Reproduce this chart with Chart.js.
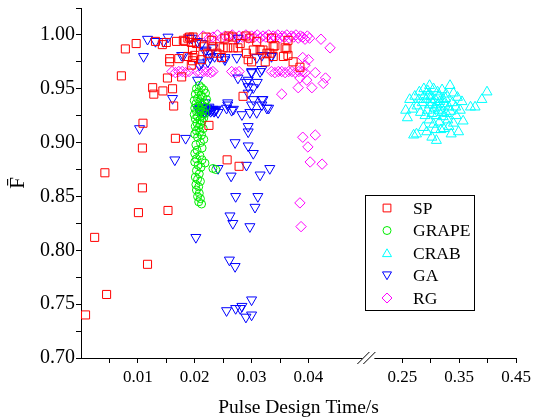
<!DOCTYPE html>
<html><head><meta charset="utf-8">
<script src="https://cdn.jsdelivr.net/npm/chart.js@4/dist/chart.umd.min.js"></script>
<style>html,body{margin:0;padding:0;background:#fff;}canvas{display:block;}</style>
</head><body>
<canvas id="c" width="538" height="420"></canvas>
<script>
// ---------------- DATA ----------------
const seriesNames = ['SP', 'GRAPE', 'CRAB', 'GA', 'RG'];

const spX = [0.0008,0.0024,0.0042,0.0045,0.0071,0.0078,0.0097,0.0101,0.0108,0.0108,0.0109,0.0117,0.0126,0.0128,0.0131,0.0143,0.0144,0.0150,0.0152,0.0153,0.0156,0.0156,0.0161,0.0163,0.0166,0.0168,0.0172,0.0177,0.0183,0.0188,0.0188,0.0194,0.0194,0.0197,0.0203,0.0212,0.0215,0.0223,0.0225,0.0230,0.0232,0.0239,0.0244,0.0247,0.0250,0.0253,0.0257,0.0258,0.0267,0.0268,0.0276,0.0278,0.0280,0.0285,0.0291,0.0294,0.0297,0.0300,0.0303,0.0309,0.0315,0.0320,0.0324,0.0327,0.0332,0.0338,0.0338,0.0341,0.0356,0.0359,0.0362,0.0364,0.0364,0.0373,0.0385,0.0196,0.0200,0.0196,0.0180,0.0191,0.0197,0.0220,0.0260,0.0335,0.0290];
const spY = [0.740,0.812,0.872,0.759,0.962,0.987,0.992,0.835,0.858,0.895,0.918,0.787,0.951,0.945,0.994,0.991,0.948,0.993,0.960,0.837,0.978,0.975,0.950,0.934,0.904,0.994,0.978,0.961,0.994,0.980,0.997,0.993,0.972,0.979,0.992,0.977,0.989,0.983,0.916,0.995,0.989,0.983,0.989,0.979,0.988,0.997,0.884,0.988,0.998,0.988,0.988,0.878,0.992,0.943,0.983,0.977,0.997,0.975,0.986,0.994,0.986,0.986,0.975,0.983,0.983,0.980,0.989,0.990,0.980,0.988,0.987,0.995,0.981,0.975,0.970,0.986,0.981,0.976,0.995,0.998,0.998,0.998,0.999,0.997,0.999];

const grapeX = [0.0208,0.0212,0.0203,0.0216,0.0207,0.0219,0.0201,0.0211,0.0214,0.0205,0.0221,0.0199,0.0209,0.0217,0.0202,0.0213,0.0206,0.0220,0.0200,0.0210,0.0215,0.0203,0.0208,0.0218,0.0199,0.0212,0.0205,0.0216,0.0201,0.0209,0.0213,0.0204,0.0210,0.0201,0.0207,0.0215,0.0203,0.0209,0.0200,0.0212,0.0205,0.0216,0.0210,0.0202,0.0213,0.0204,0.0200,0.0209,0.0203,0.0213,0.0218,0.0232,0.0237,0.0200,0.0206,0.0211,0.0203,0.0208,0.0201,0.0205,0.0210,0.0202,0.0207,0.0203,0.0208,0.0205,0.0210,0.0207,0.0212];
const grapeY = [0.953,0.951,0.950,0.949,0.947,0.946,0.945,0.944,0.942,0.941,0.940,0.939,0.938,0.937,0.936,0.935,0.934,0.933,0.932,0.931,0.930,0.929,0.928,0.927,0.926,0.925,0.924,0.923,0.922,0.921,0.920,0.918,0.917,0.915,0.914,0.913,0.911,0.910,0.908,0.907,0.905,0.903,0.900,0.898,0.895,0.893,0.890,0.888,0.885,0.884,0.881,0.876,0.875,0.882,0.879,0.877,0.874,0.871,0.868,0.866,0.864,0.861,0.859,0.856,0.853,0.850,0.848,0.845,0.843];

const crabX = [0.298,0.334,0.399,0.390,0.378,0.370,0.256,0.259,0.270,0.275,0.302,0.287,0.349,0.310,0.293,0.318,0.336,0.263,0.272,0.280,0.288,0.295,0.305,0.312,0.320,0.327,0.340,0.347,0.355,0.352,0.345,0.357,0.340,0.330,0.322,0.315,0.305,0.297,0.290,0.282,0.276,0.268,0.285,0.292,0.300,0.308,0.316,0.324,0.332,0.338,0.344,0.298,0.306,0.313,0.320,0.328,0.335,0.294,0.302,0.310,0.318,0.326,0.303,0.311,0.296,0.288,0.279,0.332,0.323,0.308,0.300,0.314,0.322];
const crabY = [0.953,0.953,0.947,0.940,0.933,0.933,0.930,0.923,0.907,0.908,0.905,0.914,0.910,0.902,0.910,0.912,0.908,0.940,0.943,0.947,0.950,0.948,0.950,0.947,0.949,0.945,0.946,0.942,0.938,0.930,0.925,0.920,0.918,0.921,0.924,0.919,0.917,0.921,0.925,0.928,0.934,0.931,0.937,0.940,0.943,0.940,0.938,0.936,0.933,0.937,0.933,0.935,0.932,0.930,0.928,0.927,0.929,0.930,0.927,0.925,0.933,0.941,0.937,0.935,0.944,0.943,0.940,0.915,0.913,0.912,0.940,0.943,0.940];

const gaX = [0.0103,0.0110,0.0117,0.0131,0.0153,0.0161,0.0165,0.0177,0.0184,0.0191,0.0195,0.0202,0.0205,0.0205,0.0208,0.0212,0.0212,0.0218,0.0218,0.0220,0.0223,0.0227,0.0228,0.0232,0.0235,0.0241,0.0241,0.0244,0.0253,0.0253,0.0256,0.0256,0.0258,0.0258,0.0261,0.0262,0.0264,0.0265,0.0267,0.0268,0.0271,0.0271,0.0272,0.0272,0.0274,0.0276,0.0276,0.0280,0.0283,0.0283,0.0290,0.0291,0.0291,0.0294,0.0294,0.0294,0.0294,0.0294,0.0294,0.0297,0.0297,0.0300,0.0300,0.0300,0.0300,0.0300,0.0303,0.0303,0.0303,0.0306,0.0309,0.0309,0.0310,0.0311,0.0315,0.0315,0.0318,0.0318,0.0318,0.0318,0.0320,0.0327,0.0330,0.0332,0.0335,0.0335,0.0145,0.0180,
  0.0206,0.0208,0.0210,0.0211,0.0213,0.0214,0.0216,0.0217,0.0219,0.0220,0.0221,0.0222,0.0224,0.0225,0.0227,0.0228,0.0230,0.0232,0.0234,0.0236,0.0238,0.0212,0.0218,0.0225];
const gaY = [0.913,0.980,0.996,0.994,0.998,0.941,0.884,0.981,0.904,0.997,0.997,0.812,0.994,0.958,0.972,0.974,0.992,0.985,0.937,0.986,0.975,0.979,0.983,0.988,0.980,0.928,0.876,0.980,0.977,0.979,0.932,0.744,0.937,0.935,0.791,0.832,0.869,0.930,0.825,0.931,0.900,0.785,0.850,0.746,0.979,0.997,0.960,0.746,0.926,0.748,0.738,0.956,0.879,0.952,0.946,0.958,0.915,0.910,0.897,0.928,0.822,0.966,0.965,0.935,0.754,0.740,0.951,0.940,0.890,0.840,0.979,0.928,0.956,0.850,0.966,0.870,0.981,0.968,0.940,0.935,0.940,0.932,0.932,0.876,0.981,0.980,0.994,0.981,
  0.931,0.930,0.932,0.929,0.931,0.930,0.932,0.929,0.931,0.930,0.932,0.929,0.931,0.930,0.931,0.929,0.930,0.931,0.929,0.930,0.931,0.933,0.928,0.933];

const rgX = [0.0215,0.0225,0.0232,0.0240,0.0247,0.0253,0.0260,0.0266,0.0272,0.0278,0.0284,0.0290,0.0295,0.0300,0.0305,0.0310,0.0315,0.0320,0.0325,0.0330,0.0334,0.0338,0.0342,0.0346,0.0350,0.0354,0.0358,0.0362,0.0366,0.0370,0.0374,0.0378,0.0382,0.0386,0.0390,0.0394,0.0398,0.0402,0.0422,0.0438,
  0.0160,0.0166,0.0172,0.0178,0.0184,0.0190,0.0204,0.0210,0.0216,0.0222,0.0228,0.0232,0.0265,0.0272,0.0278,0.0335,0.0341,0.0347,0.0353,0.0359,0.0365,0.0371,0.0377,0.0383,0.0389,0.0394,
  0.0390,0.0400,0.0394,0.0412,0.0385,0.0397,0.0430,0.0426,0.0382,0.0406,0.0353,0.0390,0.0412,0.0399,0.0403,0.0424,0.0385,0.0387];
const rgY = [0.999,0.997,0.998,1.000,0.997,0.999,0.998,1.000,0.997,0.999,0.998,1.000,0.997,0.999,0.998,1.000,0.997,0.999,0.998,1.000,0.997,0.999,0.998,1.000,0.997,0.999,0.998,1.000,0.997,0.999,0.998,1.000,0.997,0.999,0.998,0.996,0.999,0.997,0.996,0.988,
  0.966,0.965,0.966,0.966,0.965,0.966,0.966,0.965,0.966,0.966,0.965,0.966,0.966,0.965,0.966,0.966,0.965,0.966,0.966,0.965,0.966,0.966,0.965,0.966,0.966,0.965,
  0.979,0.977,0.972,0.965,0.960,0.958,0.960,0.955,0.951,0.951,0.945,0.905,0.907,0.896,0.882,0.880,0.844,0.822];

const X_TICK_VALUES = [0.005,0.01,0.015,0.02,0.025,0.03,0.035,0.04,0.25,0.30,0.35,0.40,0.45];
const X_TICK_LABELS = ['','0.01','','0.02','','0.03','','0.04','0.25','','0.35','','0.45'];
const Y_TICK_VALUES = [0.70,0.725,0.75,0.775,0.80,0.825,0.85,0.875,0.90,0.925,0.95,0.975,1.00,1.025];
const Y_TICK_LABELS = ['0.70','','0.75','','0.80','','0.85','','0.90','','0.95','','1.00',''];

// ---------------- BROKEN X SCALE ----------------
const BREAK_LIMIT = 0.1;      // values above this belong to the right segment
const RESUME_VALUE = 0.25;    // first labelled value after the break
const RESUME_OFFSET = 0.0565; // where it sits in left-segment units
const RIGHT_FACTOR = 0.1;     // right segment is compressed 10x
function brokenT(v) { return v <= BREAK_LIMIT ? v : RESUME_OFFSET + (v - RESUME_VALUE) * RIGHT_FACTOR; }
function brokenInv(t) { return t <= 0.0545 ? t : RESUME_VALUE + (t - RESUME_OFFSET) / RIGHT_FACTOR; }

class BrokenLinearScale extends Chart.LinearScale {
  static id = 'brokenLinear';
  static defaults = Chart.LinearScale.defaults;
  buildTicks() { return X_TICK_VALUES.map(v => ({ value: v })); }
  getPixelForValue(value) {
    const t0 = brokenT(this.min), t1 = brokenT(this.max);
    return this.left + (brokenT(value) - t0) / (t1 - t0) * this.width;
  }
  getValueForPixel(pixel) {
    const t0 = brokenT(this.min), t1 = brokenT(this.max);
    return brokenInv(t0 + (pixel - this.left) / this.width * (t1 - t0));
  }
}
Chart.register(BrokenLinearScale);

const FONT = 'Liberation Serif, Times New Roman, serif';

const axisBreakPlugin = {
  id: 'axisBreak',
  afterDraw(chart) {
    const ctx = chart.ctx, xs = chart.scales.x;
    const yb = chart.chartArea.bottom;
    const xm = (xs.getPixelForValue(0.04) + xs.getPixelForValue(0.25)) / 2 + 13;
    ctx.save();
    ctx.fillStyle = '#fff';
    ctx.fillRect(xm - 6, yb - 3, 12, 6);
    ctx.strokeStyle = '#000';
    ctx.lineWidth = 1;
    ctx.beginPath();
    ctx.moveTo(xm - 11, yb + 6); ctx.lineTo(xm + 1, yb - 6);
    ctx.moveTo(xm - 5, yb + 6); ctx.lineTo(xm + 7, yb - 6);
    ctx.stroke();
    ctx.restore();
  }
};

const boxLegendPlugin = {
  id: 'boxLegend',
  afterDraw(chart) {
    const ctx = chart.ctx;
    const bx = 365.5, by = 195.5, bw = 109, bh = 115;
    ctx.save();
    ctx.fillStyle = '#fff';
    ctx.fillRect(bx, by, bw, bh);
    ctx.strokeStyle = '#000';
    ctx.lineWidth = 1;
    ctx.strokeRect(bx, by, bw, bh);
    const legendR = [5.5, 4, 5.2, 5.2, 5];
    chart.data.datasets.forEach((ds, i) => {
      const y = 208 + i * 22.5;
      ctx.strokeStyle = ds.pointBorderColor;
      ctx.fillStyle = 'rgba(0,0,0,0)';
      ctx.lineWidth = 1;
      Chart.helpers.drawPoint(ctx, { pointStyle: ds.pointStyle, rotation: ds.pointRotation || 0, radius: legendR[i], borderWidth: 1 }, 387, y + (ds.pointStyle === 'triangle' ? (ds.pointRotation ? -1 : 1) : 0));
      ctx.fillStyle = '#000';
      ctx.font = '17.5px ' + FONT;
      ctx.textBaseline = 'middle';
      ctx.textAlign = 'left';
      ctx.fillText(ds.label, 413, y + 1);
    });
    ctx.restore();
  }
};

function pts(xs, ys) { return xs.map((x, i) => ({ x: x, y: ys[i] })); }
function ds(label, xs, ys, color, style, radius, rotation) {
  return {
    label: label, data: pts(xs, ys), showLine: false,
    pointStyle: style, pointRadius: radius, pointRotation: rotation || 0,
    pointBorderColor: color, borderColor: color,
    pointBackgroundColor: 'rgba(0,0,0,0)', backgroundColor: 'rgba(0,0,0,0)',
    pointBorderWidth: 1, pointHoverRadius: radius
  };
}

new Chart(document.getElementById('c'), {
  type: 'scatter',
  data: {
    datasets: [
      ds(seriesNames[0], spX, spY, '#ff0000', 'rect', 5.7),
      ds(seriesNames[1], grapeX, grapeY, '#00ee00', 'circle', 4),
      ds(seriesNames[2], crabX, crabY, '#00ffff', 'triangle', 5.8),
      ds(seriesNames[3], gaX, gaY, '#0000ff', 'triangle', 5.8, 180),
      ds(seriesNames[4], rgX, rgY, '#ff00ff', 'rectRot', 5.2)
    ]
  },
  options: {
    responsive: false, animation: false, devicePixelRatio: 1,
    layout: { padding: { top: 8, right: 22, bottom: 0, left: 0 } },
    plugins: { legend: { display: false }, tooltip: { enabled: false } },
    scales: {
      x: {
        type: 'brokenLinear', min: 0, max: 0.45,
        grid: { display: true, drawOnChartArea: false, drawTicks: true, tickLength: 5, color: '#000', tickWidth: 1 },
        border: { display: true, color: '#000', width: 1 },
        ticks: { autoSkip: false, maxRotation: 0, minRotation: 0, padding: 4, color: '#000',
          font: { family: FONT, size: 17 },
          callback: (v, i) => X_TICK_LABELS[i] },
        title: { display: true, text: 'Pulse Design Time/s', color: '#000', font: { family: FONT, size: 19.5 }, padding: { top: 0, bottom: 0 } },
        afterFit: s => { s.height = 62; s.paddingLeft = 0; s.paddingRight = 0; }
      },
      y: {
        type: 'linear', min: 0.70, max: 1.025,
        afterBuildTicks: a => { a.ticks = Y_TICK_VALUES.map(v => ({ value: v })); },
        grid: { display: true, drawOnChartArea: false, drawTicks: true, tickLength: 5, color: '#000', tickWidth: 1 },
        border: { display: true, color: '#000', width: 1 },
        ticks: { autoSkip: false, padding: 1, color: '#000', font: { family: FONT, size: 20 },
          callback: (v, i) => Y_TICK_LABELS[i] },
        title: { display: true, text: 'F\u0304', color: '#000', font: { family: FONT, size: 21 }, padding: { top: 6, bottom: 0 } },
        afterFit: s => { s.width = 81; s.paddingTop = 0; s.paddingBottom = 0; }
      }
    }
  },
  plugins: [axisBreakPlugin, boxLegendPlugin]
});
</script>
</body></html>
